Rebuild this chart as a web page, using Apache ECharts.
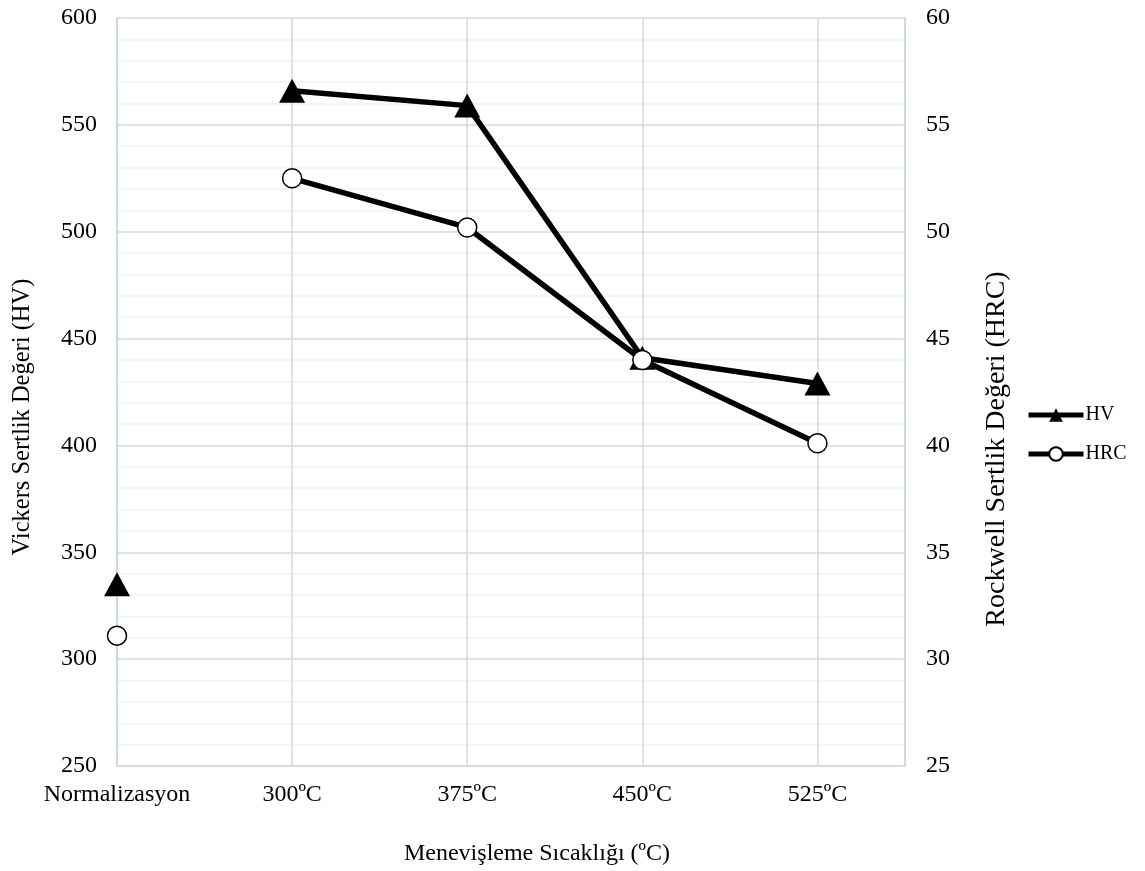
<!DOCTYPE html>
<html>
<head>
<meta charset="utf-8">
<script src="https://cdn.jsdelivr.net/npm/echarts@6/dist/echarts.min.js"></script>
<style>
  html, body { margin: 0; padding: 0; background: #fff; }
  #chart { width: 1145px; height: 871px; }
</style>
</head>
<body>
<div id="chart"></div>
<script>
const categories = ['Normalizasyon', '300ºC', '375ºC', '450ºC', '525ºC'];
const hvValues = [335, 566, 559, 441, 429];
const hrcValues = [31.1, 52.5, 50.2, 44.0, 40.1];
const hvTicks = [250, 600, 50];
const hrcTicks = [25, 60, 5];

const font = 'Liberation Serif';
const chart = echarts.init(document.getElementById('chart'));

// normalizasyon point stands alone, the tempered ones are joined
const pts = arr => arr.map((v, i) => [i, v]);
const hv = pts(hvValues);
const hrc = pts(hrcValues);

const triangle = {
    symbol: 'triangle',
    symbolSize: [26, 24],
    itemStyle: { color: '#000' }
};
const circle = {
    symbol: 'circle',
    symbolSize: 19,
    itemStyle: { color: '#fff', borderColor: '#000', borderWidth: 1.5 }
};

var option = {
    backgroundColor: '#fff',
    animation: false,
    grid: { left: 117, right: 240, top: 18, bottom: 104 },
    legend: {
        orient: 'vertical',
        left: 1026,
        top: 405,
        padding: 0,
        itemWidth: 55,
        itemHeight: 17,
        itemGap: 19,
        data: ['HV', 'HRC'],
        lineStyle: { width: 5 },
        textStyle: { fontFamily: font, fontSize: 20, color: '#000', padding: [0, 0, 0, -3] }
    },
    xAxis: {
        type: 'value',
        min: 0,
        max: 4.5,
        interval: 1,
        axisLine: { show: true, onZero: false, lineStyle: { color: '#d9d9d9', width: 1.5 } },
        axisTick: { show: false },
        splitLine: { show: true, lineStyle: { color: '#d9d9d9', width: 1.5 } },
        axisLabel: {
            formatter: v => Number.isInteger(v) ? categories[v] : '',
            margin: 17,
            color: '#000',
            fontFamily: font,
            fontSize: 24
        },
        name: 'Menevişleme Sıcaklığı (ºC)',
        nameLocation: 'middle',
        nameGap: 76,
        nameTextStyle: { fontFamily: font, fontSize: 24, color: '#000', padding: [0, 0, 0, 52] }
    },
    yAxis: [{
        type: 'value',
        position: 'left',
        min: hvTicks[0],
        max: hvTicks[1],
        interval: hvTicks[2],
        axisLine: { show: true, onZero: false, lineStyle: { color: '#bdd7ee', width: 1.5 } },
        axisTick: { show: false },
        minorTick: { show: false, splitNumber: 5 },
        splitLine: { lineStyle: { color: '#d9d9d9', width: 1.5 } },
        minorSplitLine: { show: true, lineStyle: { color: '#f2f2f2', width: 1.5 } },
        axisLabel: { margin: 20, color: '#000', fontFamily: font, fontSize: 24 },
        name: 'Vickers Sertlik Değeri (HV)',
        nameLocation: 'middle',
        nameRotate: 90,
        nameGap: 82,
        nameTextStyle: { fontFamily: font, fontSize: 24.5, color: '#000', padding: [0, 50, 0, 0] }
    }, {
        type: 'value',
        position: 'right',
        min: hrcTicks[0],
        max: hrcTicks[1],
        interval: hrcTicks[2],
        axisLine: { show: true, onZero: false, lineStyle: { color: '#bdd7ee', width: 1.5 } },
        axisTick: { show: false },
        splitLine: { show: false },
        axisLabel: { margin: 21, color: '#000', fontFamily: font, fontSize: 24 },
        name: 'Rockwell Sertlik Değeri (HRC)',
        nameLocation: 'middle',
        nameRotate: 90,
        nameGap: 78,
        nameTextStyle: { fontFamily: font, fontSize: 28, color: '#000', padding: [0, 114, 0, 0] }
    }],
    series: [{
        name: 'HV',
        type: 'line',
        yAxisIndex: 0,
        data: hv.slice(1),
        lineStyle: { color: '#000', width: 5.5 },
        ...triangle
    }, {
        name: 'HV',
        type: 'line',
        yAxisIndex: 0,
        data: hv.slice(0, 1),
        lineStyle: { color: '#000', width: 5.5 },
        ...triangle
    }, {
        name: 'HRC',
        type: 'line',
        yAxisIndex: 1,
        data: hrc.slice(1),
        lineStyle: { color: '#000', width: 5.5 },
        ...circle
    }, {
        name: 'HRC',
        type: 'line',
        yAxisIndex: 1,
        data: hrc.slice(0, 1),
        lineStyle: { color: '#000', width: 5.5 },
        ...circle
    }]
};

chart.setOption(option);
</script>
</body>
</html>
